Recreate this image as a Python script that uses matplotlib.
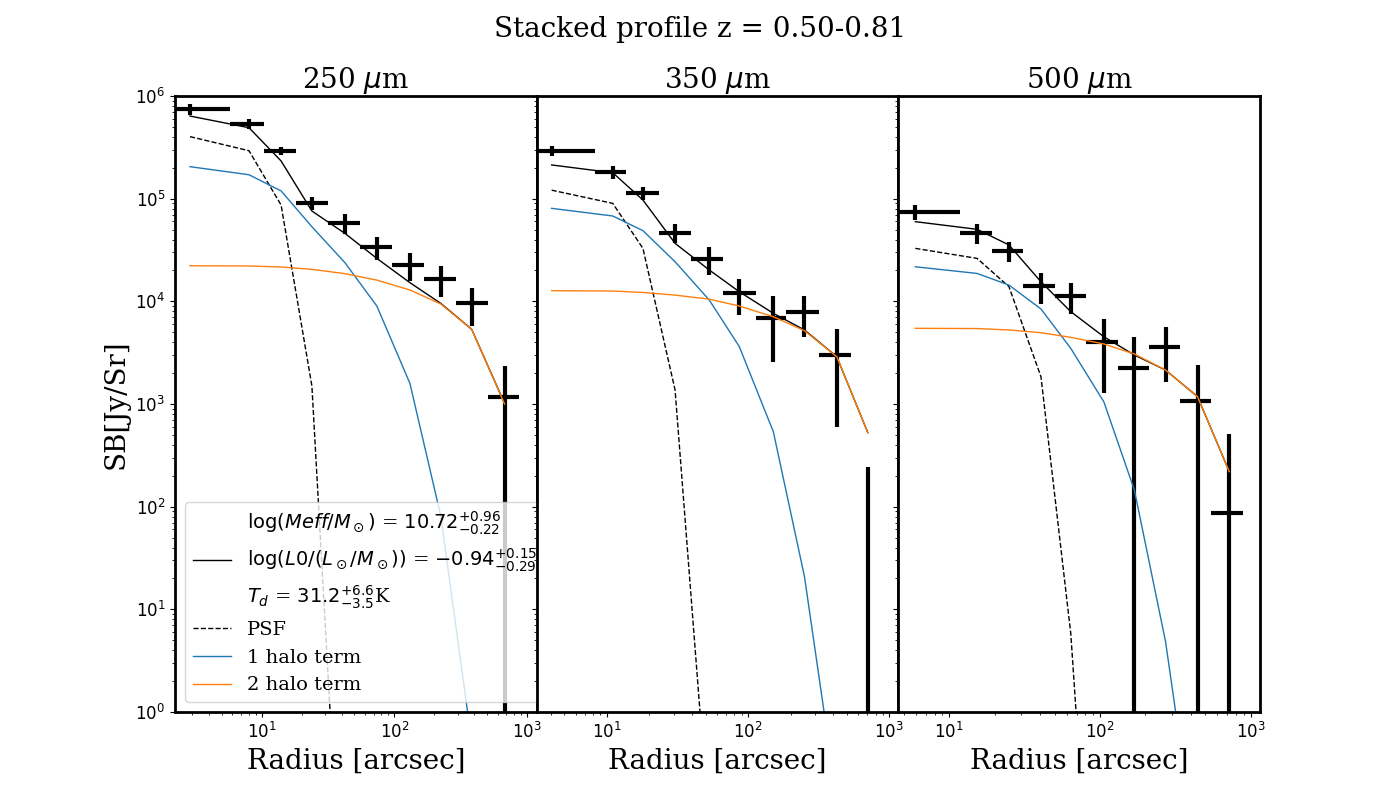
import numpy as np
import matplotlib
matplotlib.use('Agg')
import matplotlib.pyplot as plt

bands = ['250 $\\mu$m', '350 $\\mu$m', '500 $\\mu$m']

# radial bins [arcsec]: centre and upper bin edge (first bin starts at 0)
r_250 = [2.88, 8.02, 14.0, 23.9, 42.4, 73.8, 131, 224, 383, 678]
hi_250 = [5.78, 10.4, 18.1, 31.6, 55, 95.7, 167, 290, 506, 867]
r_350 = [4.06, 11.0, 18.0, 30.4, 53.1, 86.7, 151, 251, 425, 705]
hi_350 = [8.22, 13.6, 23.5, 39.5, 66.7, 113, 187, 316, 533, 885]
r_500 = [5.96, 15.3, 24.9, 40.6, 64, 106, 169, 272, 443, 720]
hi_500 = [11.8, 19.1, 30.8, 50.1, 80.3, 131, 210, 341, 547, 891]

# stacked surface brightness [Jy/Sr] and errors
sb_250 = [7.47e5, 5.37e5, 2.91e5, 9.07e4, 5.79e4, 3.38e4, 2.26e4, 1.65e4, 9.63e3, 1.17e3]
err_250 = [9e4, 6e4, 2.7e4, 1.3e4, 1.25e4, 8.5e3, 6.8e3, 5.4e3, 3.9e3, 1.2e3]
sb_350 = [2.93e5, 1.83e5, 1.14e5, 4.66e4, 2.58e4, 1.20e4, 6.93e3, 7.93e3, 3.0e3, -20]
err_350 = [3.5e4, 2.6e4, 1.6e4, 1.0e4, 7.7e3, 4.6e3, 4.35e3, 3.45e3, 2.4e3, 265]
sb_500 = [7.46e4, 4.66e4, 3.11e4, 1.42e4, 1.13e4, 3.99e3, 2.23e3, 3.62e3, 1.08e3, 86.7]
err_500 = [1.3e4, 1.05e4, 7e3, 4.85e3, 3.7e3, 2.7e3, 2.3e3, 2.0e3, 1.3e3, 424]

# model components
tot_250 = [6.38e5, 4.91e5, 2.33e5, 7.58e4, 4.59e4, 2.62e4, 1.52e4, 9.55e3, 5.34e3, 1.01e3]
psf_250 = [4.02e5, 2.93e5, 8.67e4, 1.50e3, 2.6e-3, 1e-6, 1e-9, 1e-12, 1e-15, 1e-18]
h1_250 = [2.05e5, 1.71e5, 1.19e5, 5.33e4, 2.38e4, 9.0e3, 1.59e3, 81, 0.51, 1e-3]
h2_250 = [2.22e4, 2.21e4, 2.16e4, 2.05e4, 1.86e4, 1.61e4, 1.29e4, 9.42e3, 5.33e3, 1.0e3]

tot_350 = [2.13e5, 1.79e5, 9.70e4, 3.67e4, 2.02e4, 1.24e4, 7.64e3, 5.26e3, 2.89e3, 526]
psf_350 = [1.21e5, 9.0e4, 3.28e4, 1.37e3, 0.069, 1e-6, 1e-9, 1e-12, 1e-15, 1e-18]
h1_350 = [8.05e4, 6.78e4, 4.88e4, 2.43e4, 1.03e4, 3.62e3, 537, 20.8, 0.14, 1e-4]
h2_350 = [1.27e4, 1.26e4, 1.22e4, 1.15e4, 1.05e4, 9.0e3, 7.08e3, 5.17e3, 2.89e3, 526]

tot_500 = [5.97e4, 5.03e4, 3.54e4, 1.55e4, 7.93e3, 4.52e3, 3.0e3, 2.14e3, 1.18e3, 219]
psf_500 = [3.28e4, 2.62e4, 1.39e4, 1.84e3, 5.8, 1e-4, 1e-8, 1e-12, 1e-15, 1e-18]
h1_500 = [2.17e4, 1.87e4, 1.44e4, 8.42e3, 3.48e3, 1.05e3, 145, 4.84, 0.033, 1e-4]
h2_500 = [5.46e3, 5.43e3, 5.26e3, 4.95e3, 4.46e3, 3.84e3, 3.07e3, 2.14e3, 1.18e3, 219]

xlims = [(2.22, 1183), (3.18, 1160), (4.6, 1150)]

data = [
    (r_250, hi_250, sb_250, err_250, tot_250, psf_250, h1_250, h2_250),
    (r_350, hi_350, sb_350, err_350, tot_350, psf_350, h1_350, h2_350),
    (r_500, hi_500, sb_500, err_500, tot_500, psf_500, h1_500, h2_500),
]

fig, axes = plt.subplots(1, 3, figsize=(14, 8), sharey=True)
fig.subplots_adjust(wspace=0)

for i, ax in enumerate(axes):
    r, hi, sb, err, tot, psf, h1, h2 = [np.array(a, dtype=float) for a in data[i]]
    lo = np.concatenate(([0.0], hi[:-1]))
    xerr = [r - lo, hi - r]

    ax.errorbar(r, sb, xerr=xerr, yerr=err, fmt='none', ecolor='k', elinewidth=3)
    if i == 0:
        ax.plot([], [], ' ', label=r'$\log(Meff/M_\odot)$ = $10.72^{+0.96}_{-0.22}$')
    ax.plot(r, tot, 'k-', lw=1, label=r'$\log(L0/(L_\odot/M_\odot))$ = $-0.94^{+0.15}_{-0.29}$')
    if i == 0:
        ax.plot([], [], ' ', label=r'$T_d$ = $31.2^{+6.6}_{-3.5}$K')
    ax.plot(r, psf, 'k--', lw=1, label='PSF')
    ax.plot(r, h1, color='C0', lw=1, label='1 halo term')
    ax.plot(r, h2, color='C1', lw=1, label='2 halo term')

    ax.set_xscale('log')
    ax.set_yscale('log')
    ax.set_xlim(xlims[i])
    ax.set_ylim(1, 1e6)
    ax.tick_params(labelsize=12)
    ax.set_title(bands[i], fontsize=20, family='serif')
    ax.set_xlabel('Radius [arcsec]', fontsize=20, family='serif')
    for s in ax.spines.values():
        s.set_linewidth(2)

axes[0].set_ylabel('SB[Jy/Sr]', fontsize=20, family='serif')
axes[0].legend(loc='lower left', prop={'family': 'serif', 'size': 14})
fig.suptitle('Stacked profile z = 0.50-0.81', fontsize=20, family='serif')

plt.savefig('out.png', dpi=100)
